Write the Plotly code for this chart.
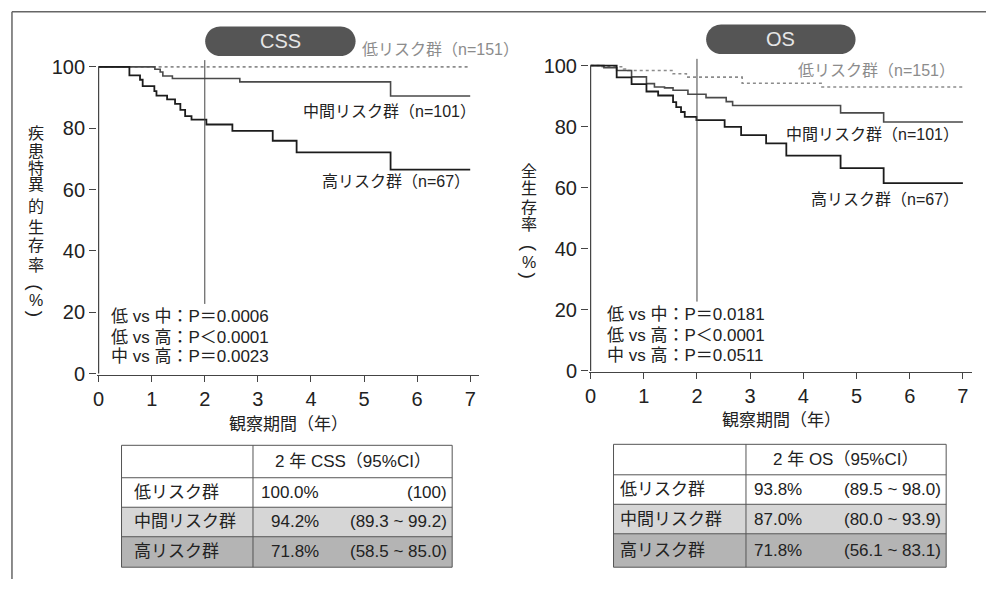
import math
import plotly.graph_objects as go

W, H = 986, 589

# ---------------- data ----------------
x_ticks = [0, 1, 2, 3, 4, 5, 6, 7]
y_ticks = [0, 20, 40, 60, 80, 100]
landmark_year = 2

# CSS (disease-specific survival) step curves: time (years) -> survival (%)
css_low_t = [0, 7.0]
css_low_s = [100, 100]
css_mid_t = [0, 1.06, 1.16, 1.21, 1.39, 2.66, 5.50, 7.0]
css_mid_s = [100, 99.2, 98.3, 97.0, 96.2, 95.1, 90.5, 90.5]
css_high_t = [0, 0.58, 0.78, 0.83, 1.05, 1.09, 1.29, 1.44, 1.54, 1.63, 1.75, 2.03, 2.52, 3.28, 3.73, 5.50, 7.0]
css_high_s = [100, 97.2, 95.8, 93.7, 92.1, 90.6, 89.4, 87.9, 86.0, 83.9, 82.8, 81.2, 79.1, 75.9, 72.1, 66.5, 66.5]

# OS (overall survival) step curves
os_low_t = [0, 0.20, 0.62, 0.70, 1.55, 1.80, 2.85, 4.35, 7.0]
os_low_s = [100, 99.6, 98.9, 98.4, 97.3, 96.2, 94.2, 93.0, 93.0]
os_mid_t = [0, 0.25, 0.49, 0.77, 1.05, 1.20, 1.39, 1.55, 1.83, 2.17, 2.55, 2.67, 4.70, 5.51, 7.0]
os_mid_s = [100, 99.3, 98.4, 96.3, 94.1, 93.0, 92.7, 91.9, 90.6, 89.5, 88.2, 86.9, 84.5, 81.5, 81.5]
os_high_t = [0, 0.49, 0.77, 1.05, 1.27, 1.55, 1.61, 1.70, 1.77, 1.99, 2.52, 2.83, 3.30, 3.68, 4.70, 5.51, 7.0]
os_high_s = [100, 96.1, 93.9, 91.5, 90.2, 88.0, 86.4, 84.8, 83.2, 82.1, 79.9, 77.2, 74.5, 70.5, 66.4, 61.5, 61.5]

group_labels = ["低リスク群（n=151）", "中間リスク群（n=101）", "高リスク群（n=67）"]
row_labels = ["低リスク群", "中間リスク群", "高リスク群"]
css_header = "2 年 CSS（95%CI）"
os_header = "2 年 OS（95%CI）"
css_2y = ["100.0%", "94.2%", "71.8%"]
css_ci = ["(100)", "(89.3 ~ 99.2)", "(58.5 ~ 85.0)"]
os_2y = ["93.8%", "87.0%", "71.8%"]
os_ci = ["(89.5 ~ 98.0)", "(80.0 ~ 93.9)", "(56.1 ~ 83.1)"]
p_css = ["低 vs 中：P＝0.0006", "低 vs 高：P＜0.0001", "中 vs 高：P＝0.0023"]
p_os = ["低 vs 中：P＝0.0181", "低 vs 高：P＜0.0001", "中 vs 高：P＝0.0511"]
css_title = "CSS"
os_title = "OS"
css_ytitle = ["疾", "患", "特", "異", "的", "生", "存", "率"]
os_ytitle = ["全", "生", "存", "率"]
x_title = "観察期間（年）"

# ---------------- styling helpers ----------------
FONT = "Liberation Sans, Noto Sans CJK JP, sans-serif"
TXT = "#222222"
C_LOW, C_MID, C_HIGH = "#8c8c8c", "#4a4a4a", "#1c1c1c"


def X(px):
    return px / W


def Y(py):
    return 1 - py / H


XR = [-0.03, 7.17]
YR = [-0.4, 103.5]


def domains(px0, pxu, py0, pyu):
    xd = [X(px0 + pxu * XR[0]), X(px0 + pxu * XR[1])]
    yd = [Y(py0 - pyu * YR[0]), Y(py0 - pyu * YR[1])]
    return xd, yd


css_xd, css_yd = domains(95, 53.3, 380, 3.12)
os_xd, os_yd = domains(589, 53.4, 377.3, 3.106)

fig = go.Figure()


def add_curves(xa, ya, series):
    for t, s, color, width, dash in series:
        fig.add_trace(go.Scatter(
            x=t, y=s, xaxis=xa, yaxis=ya, mode="lines",
            line=dict(color=color, width=width, dash=dash, shape="hv"),
            hoverinfo="skip", showlegend=False))


add_curves("x", "y", [
    (css_low_t, css_low_s, C_LOW, 1.6, "dot"),
    (css_mid_t, css_mid_s, C_MID, 1.6, "solid"),
    (css_high_t, css_high_s, C_HIGH, 1.8, "solid"),
])
add_curves("x2", "y2", [
    (os_low_t, os_low_s, C_LOW, 1.6, "dot"),
    (os_mid_t, os_mid_s, C_MID, 1.6, "solid"),
    (os_high_t, os_high_s, C_HIGH, 1.8, "solid"),
])

axis_common = dict(
    range=XR, tickmode="array", tickvals=x_ticks, ticktext=[str(v) for v in x_ticks],
    ticks="outside", ticklen=6, tickwidth=1, tickcolor="#444",
    showline=True, linecolor="#444", linewidth=1.2,
    showgrid=False, zeroline=False,
    tickfont=dict(family=FONT, size=20, color=TXT), fixedrange=True,
)
yaxis_common = dict(
    range=YR, tickmode="array", tickvals=y_ticks, ticktext=[str(v) for v in y_ticks],
    ticks="outside", ticklen=7, tickwidth=1, tickcolor="#444",
    showline=False, showgrid=False, zeroline=False,
    tickfont=dict(family=FONT, size=20, color=TXT), fixedrange=True,
)

fig.update_layout(
    width=W, height=589, margin=dict(l=0, r=0, t=0, b=0),
    paper_bgcolor="white", plot_bgcolor="rgba(0,0,0,0)",
    xaxis=dict(domain=css_xd, anchor="y", **axis_common),
    yaxis=dict(domain=css_yd, anchor="x", **yaxis_common),
    xaxis2=dict(domain=os_xd, anchor="y2", **axis_common),
    yaxis2=dict(domain=os_yd, anchor="x2", **yaxis_common),
    font=dict(family=FONT, color=TXT),
)

shapes = []
ann = []

# y-axis lines and landmark lines
for xa, ya, top in (("x", "y", 102.2), ("x2", "y2", 102.2)):
    shapes.append(dict(type="line", xref=xa, yref=ya, x0=0, x1=0, y0=0, y1=100,
                       line=dict(color="#444", width=1.2)))
    shapes.append(dict(type="line", xref=xa, yref=ya, x0=landmark_year, x1=landmark_year,
                       y0=22.7, y1=top, line=dict(color="#444", width=1)))

# outer frame
shapes.append(dict(type="line", xref="paper", yref="paper", x0=X(8), x1=1, y0=Y(12), y1=Y(12),
                   line=dict(color="#666", width=1.5)))
shapes.append(dict(type="line", xref="paper", yref="paper", x0=X(8), x1=X(8), y0=Y(12), y1=0,
                   line=dict(color="#666", width=1.5)))


def pill(x0, y0, x1, y1, n=24):
    r = (y1 - y0) / 2
    yc = (y0 + y1) / 2
    pts = []
    for i in range(n + 1):
        a = math.pi / 2 + math.pi * i / n
        pts.append((x0 + r + r * math.cos(a), yc - r * math.sin(a)))
    for i in range(n + 1):
        a = -math.pi / 2 + math.pi * i / n
        pts.append((x1 - r + r * math.cos(a), yc - r * math.sin(a)))
    return "M " + " L ".join(f"{X(px):.5f},{Y(py):.5f}" for px, py in pts) + " Z"


for (bx0, by0, bx1, by1), title in (((202, 27, 353, 57), css_title), ((705, 25, 855, 55), os_title)):
    shapes.append(dict(type="path", xref="paper", yref="paper", path=pill(bx0, by0, bx1, by1),
                       fillcolor="#555555", line=dict(width=0)))
    ann.append(dict(x=X((bx0 + bx1) / 2), y=Y((by0 + by1) / 2), text=title, showarrow=False,
                    xref="paper", yref="paper", xanchor="center", yanchor="middle",
                    font=dict(family=FONT, size=20, color="#e6e6e6")))


def text(px, py, s, size=16, color=TXT, xanchor="left", angle=0):
    ann.append(dict(x=X(px), y=Y(py), text=s, showarrow=False, xref="paper", yref="paper",
                    xanchor=xanchor, yanchor="middle", textangle=angle,
                    font=dict(family=FONT, size=size, color=color)))


# group labels
for (px, py), s, c in zip([(357, 50), (298, 113), (317, 185)], group_labels, [C_LOW, TXT, TXT]):
    text(px, py, s, 16, c)
for (px, py), s, c in zip([(795, 72), (783, 137), (808, 203)], group_labels, [C_LOW, TXT, TXT]):
    text(px, py, s, 16, c)

# p values
for py, s in zip([322, 343, 363], p_css):
    text(105, py, s, 17)
for py, s in zip([320, 341, 362], p_os):
    text(603, py, s, 17)

# axis titles
text(286, 432, x_title, 17, xanchor="center")
text(781, 428, x_title, 17, xanchor="center")
for py, ch in zip([136, 154, 171, 188, 210, 231, 250, 270], css_ytitle):
    text(32, py, ch, 16, xanchor="center")
text(32, 293, "(", 19, xanchor="center", angle=90)
text(32, 306, "%", 16, xanchor="center")
text(32, 319, ")", 19, xanchor="center", angle=90)
for py, ch in zip([174, 192, 211, 228], os_ytitle):
    text(527, py, ch, 16, xanchor="center")
text(527, 253, "(", 19, xanchor="center", angle=90)
text(527, 267, "%", 16, xanchor="center")
text(527, 280, ")", 19, xanchor="center", angle=90)


# tables
def table(xl, xm, xr, rows_y, header, vals, cis, lab_x, val_x, val_anchor, ci_x):
    fills = ["white", "white", "#d6d6d6", "#b4b4b4"]
    for i in range(4):
        shapes.append(dict(type="rect", xref="paper", yref="paper", x0=X(xl), x1=X(xr),
                           y0=Y(rows_y[i + 1]), y1=Y(rows_y[i]), fillcolor=fills[i],
                           line=dict(width=0), layer="below"))
    lc = dict(color="#555", width=1)
    shapes.append(dict(type="rect", xref="paper", yref="paper", x0=X(xl), x1=X(xr),
                       y0=Y(rows_y[-1]), y1=Y(rows_y[0]), line=lc))
    for yy in rows_y[1:-1]:
        shapes.append(dict(type="line", xref="paper", yref="paper", x0=X(xl), x1=X(xr),
                           y0=Y(yy), y1=Y(yy), line=lc))
    shapes.append(dict(type="line", xref="paper", yref="paper", x0=X(xm), x1=X(xm),
                       y0=Y(rows_y[-1]), y1=Y(rows_y[0]), line=lc))
    text((xm + xr) / 2, (rows_y[0] + rows_y[1]) / 2, header, 17, xanchor="center")
    for i in range(3):
        yc = (rows_y[i + 1] + rows_y[i + 2]) / 2
        text(lab_x, yc, row_labels[i], 17)
        text(val_x, yc, vals[i], 17, xanchor=val_anchor)
        text(ci_x, yc, cis[i], 17, xanchor="right")


table(118, 250, 450, [453, 486, 516, 546, 577], css_header, css_2y, css_ci, 129, 318, "right", 447)
table(612, 745, 946, [452, 483, 513, 543, 577], os_header, os_2y, os_ci, 617, 751, "left", 943)

fig.update_layout(shapes=shapes, annotations=ann)
fig.write_html(
    "out.html",
    config={"displayModeBar": False},
    post_script="document.body.style.margin='0';document.body.style.padding='0';document.documentElement.style.overflow='hidden';",
)
